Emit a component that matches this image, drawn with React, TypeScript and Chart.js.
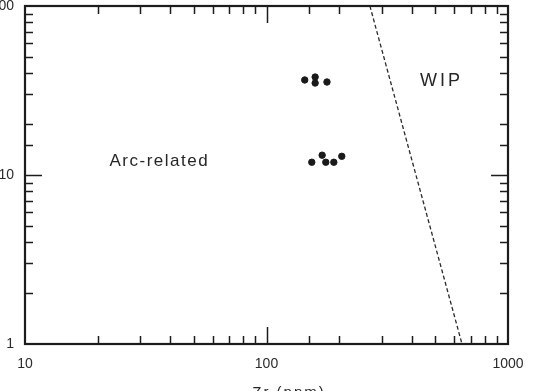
import { useEffect, useRef } from 'react';
import { Chart, registerables } from 'chart.js';

Chart.register(...registerables);

// Zr (ppm) vs Y (ppm) – upper cluster
const upperZr = [144, 159, 159, 178];
const upperY = [36.5, 38, 35, 35.5];
// lower cluster
const lowerZr = [154, 170, 176, 190, 205];
const lowerY = [11.9, 13.1, 11.9, 11.9, 12.9];
// WIP / Arc-related boundary (dashed)
const boundaryZr = [268, 645];
const boundaryY = [100, 1];
// labelled ticks
const xTickLabels = [10, 100, 1000];
const yTickLabels = [1, 10, 100];
const fieldLabels = ['Arc-related', 'WIP'];
const fieldZr = [36, 530];
const fieldY = [12, 36];
const fieldSpacing = [1.5, 3];
const xTitle = 'Zr (ppm)';

const isDecade = (v: number) => Math.abs(Math.log10(v) - Math.round(Math.log10(v))) < 1e-6;

const framePlugin = {
  id: 'frameTicks',
  afterDatasetsDraw(chart: any) {
    const { ctx, chartArea, scales } = chart;
    const { left, right, top, bottom } = chartArea;
    const xs = scales.x;
    const ys = scales.y;
    ctx.save();
    ctx.strokeStyle = '#1c1c1c';
    ctx.lineWidth = 1.5;
    ctx.beginPath();
    for (const t of xs.ticks) {
      const px = Math.round(xs.getPixelForValue(t.value)) + 0.5;
      if (px < left + 1 || px > right - 1) continue;
      const len = isDecade(t.value) ? 17 : 8;
      ctx.moveTo(px, bottom);
      ctx.lineTo(px, bottom - len);
      ctx.moveTo(px, top);
      ctx.lineTo(px, top + len);
    }
    for (const t of ys.ticks) {
      const py = Math.round(ys.getPixelForValue(t.value)) + 0.5;
      if (py < top + 1 || py > bottom - 1) continue;
      const len = isDecade(t.value) ? 17 : 8;
      ctx.moveTo(left, py);
      ctx.lineTo(left + len, py);
      ctx.moveTo(right, py);
      ctx.lineTo(right - len, py);
    }
    ctx.stroke();
    ctx.lineWidth = 2.2;
    ctx.strokeRect(left, top, right - left, bottom - top);

    // field labels
    ctx.fillStyle = '#262626';
    ctx.textBaseline = 'middle';
    ctx.textAlign = 'center';
    fieldLabels.forEach((txt, i) => {
      ctx.font = (i === 0 ? '17px' : '18px') + ' "Liberation Sans", Arial, sans-serif';
      (ctx as any).letterSpacing = fieldSpacing[i] + 'px';
      const px = xs.getPixelForValue(fieldZr[i]);
      const py = ys.getPixelForValue(fieldY[i]);
      ctx.fillText(txt, px, py);
    });

    // axis title (partly cut off at bottom in the reference)
    ctx.font = '15px "Liberation Sans", Arial, sans-serif';
    (ctx as any).letterSpacing = '2px';
    ctx.textAlign = 'center';
    ctx.textBaseline = 'top';
    ctx.fillText(xTitle, 289, 385);
    ctx.restore();
  },
};

export default function App() {
  const ref = useRef<HTMLCanvasElement>(null);
  useEffect(() => {
    if (!ref.current) return;
    const chart = new Chart(ref.current, {
      type: 'scatter',
      data: {
        datasets: [
          {
            data: upperZr.map((x, i) => ({ x, y: upperY[i] })),
            pointRadius: 3.2,
            pointBackgroundColor: '#1a1a1a',
            pointBorderColor: '#1a1a1a',
            pointBorderWidth: 1,
          },
          {
            data: lowerZr.map((x, i) => ({ x, y: lowerY[i] })),
            pointRadius: 3.2,
            pointBackgroundColor: '#1a1a1a',
            pointBorderColor: '#1a1a1a',
            pointBorderWidth: 1,
          },
          {
            type: 'line',
            data: boundaryZr.map((x, i) => ({ x, y: boundaryY[i] })),
            borderColor: '#2a2a2a',
            borderWidth: 1.3,
            borderDash: [4, 2.5],
            pointRadius: 0,
            fill: false,
          } as any,
        ],
      },
      options: {
        responsive: false,
        animation: false,
        devicePixelRatio: 1,
        layout: { padding: { top: 6, right: 39, left: 0, bottom: 0 } },
        plugins: { legend: { display: false }, tooltip: { enabled: false } },
        scales: {
          x: {
            type: 'logarithmic',
            min: 10,
            max: 1000,
            grid: { display: false, drawTicks: false },
            border: { display: false },
            ticks: {
              autoSkip: false,
              maxRotation: 0,
              padding: 12,
              color: '#2a2a2a',
              font: { family: '"Liberation Sans", Arial, sans-serif', size: 14 },
              callback: (v: any) => (xTickLabels.includes(Number(v)) ? String(v) : ''),
            },
            afterFit: (s: any) => {
              s.height = 47;
              s.paddingLeft = 0;
              s.paddingRight = 0;
            },
          },
          y: {
            type: 'logarithmic',
            min: 1,
            max: 100,
            grid: { display: false, drawTicks: false },
            border: { display: false },
            ticks: {
              autoSkip: false,
              padding: 11,
              color: '#2a2a2a',
              font: { family: '"Liberation Sans", Arial, sans-serif', size: 14 },
              callback: (v: any) => (yTickLabels.includes(Number(v)) ? String(v) : ''),
            },
            afterFit: (s: any) => {
              s.width = 25;
              s.paddingTop = 0;
              s.paddingBottom = 0;
            },
          },
        },
      },
      plugins: [framePlugin],
    });
    return () => chart.destroy();
  }, []);
  return (
    <div style={{ position: 'fixed', left: 0, top: 0, width: 547, height: 391, background: '#fff' }}>
      <canvas ref={ref} width={547} height={391} />
    </div>
  );
}
